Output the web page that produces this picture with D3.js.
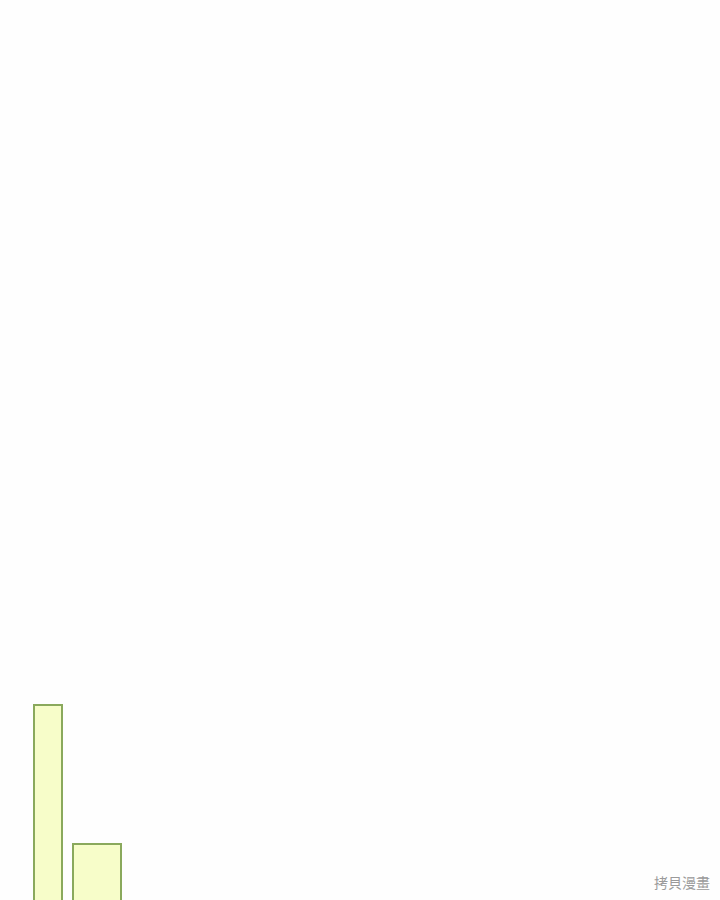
<!DOCTYPE html>
<html><head><meta charset="utf-8">
<script src="https://cdn.jsdelivr.net/npm/d3@7"></script>
<style>html,body{margin:0;padding:0;background:#fefefe;overflow:hidden}</style>
</head><body>
<script>
// Data (histogram-like bins, in data units)
const categories = ["A", "B"];
const binStart = [0, 39];
const binEnd = [28, 87];
const values = [197, 58];
const watermark = "拷貝漫畫";

const W = 720, H = 900;
const svg = d3.select("body").append("svg").attr("width", W).attr("height", H);
svg.append("rect").attr("width", W).attr("height", H).attr("fill", "#fefefe");

const x = d3.scaleLinear().domain([0, 87]).range([34, 121]);
const y = d3.scaleLinear().domain([0, 200]).range([902, 702]);

const data = categories.map((c, i) => ({c, x0: binStart[i], x1: binEnd[i], v: values[i]}));

svg.selectAll("rect.bar").data(data).join("rect")
  .attr("class", "bar")
  .attr("x", d => x(d.x0))
  .attr("width", d => x(d.x1) - x(d.x0))
  .attr("y", d => y(d.v))
  .attr("height", d => y(0) - y(d.v) + 10)
  .attr("fill", "#f7fdc9")
  .attr("stroke", "#8aa95c")
  .attr("stroke-width", 2);

svg.append("text")
  .attr("x", 710).attr("y", 888)
  .attr("text-anchor", "end")
  .attr("font-family", "Noto Sans CJK TC, Noto Sans CJK SC, sans-serif")
  .attr("font-size", 14)
  .attr("fill", "#9a9a9a")
  .attr("stroke", "#ffffff")
  .attr("stroke-width", 2)
  .attr("paint-order", "stroke")
  .text(watermark);
</script>
</body></html>
